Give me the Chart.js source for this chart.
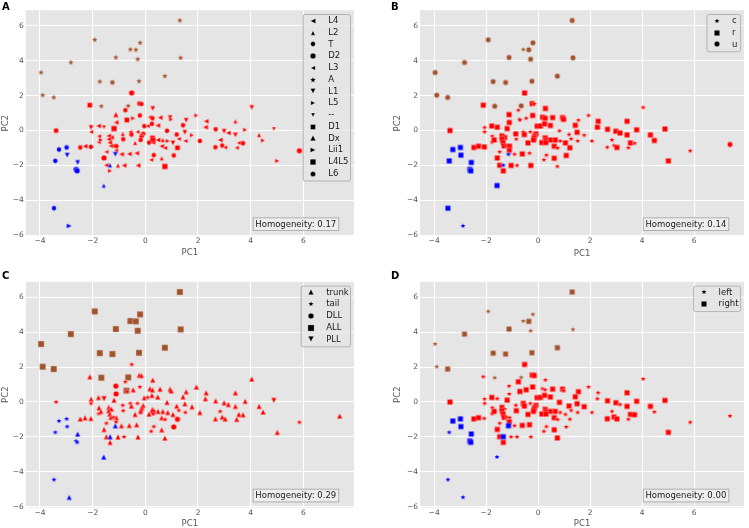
<!DOCTYPE html>
<html><head><meta charset="utf-8">
<script src="https://cdn.jsdelivr.net/npm/chart.js@4"></script>
<style>
html,body{margin:0;padding:0;background:#fff;}
#wrap{position:relative;width:749px;height:528px;overflow:hidden;background:#fff;}
#wrap canvas{position:absolute;}
.lbl{position:absolute;font-family:"DejaVu Sans",sans-serif;font-weight:bold;font-size:10px;line-height:10px;color:#000;}
</style></head><body>
<div id="wrap">
<canvas id="cA" width="375" height="264" style="left:0;top:0"></canvas>
<canvas id="cB" width="374" height="264" style="left:375px;top:0"></canvas>
<canvas id="cC" width="375" height="264" style="left:0;top:264px"></canvas>
<canvas id="cD" width="374" height="264" style="left:375px;top:264px"></canvas>
<div class="lbl" style="left:2px;top:2px">A</div>
<div class="lbl" style="left:391px;top:2px">B</div>
<div class="lbl" style="left:2px;top:271px">C</div>
<div class="lbl" style="left:391px;top:271px">D</div>
</div>
<script>
// ---------------- DATA ----------------
const pc1 = [
 1.31,-1.92,-0.20,-0.57,-0.36,-2.83,-1.12,-0.29,1.34,-3.96,0.74,-1.73,-1.25,-0.24,-3.90,-3.48,-1.67,-0.65,-0.72,
 -2.11,-3.39,-2.06,-2.06,-1.78,-1.57,-1.76,-1.77,-1.69,-1.39,-1.29,-1.39,-1.35,-1.31,-1.21,-1.19,-2.47,-2.29,-2.07,-1.57,-1.48,-1.48,-1.34,-1.12,-1.11,
 -0.52,-0.23,-0.15,-0.76,0.28,-0.21,-0.70,-0.46,0.17,0.27,0.56,0.94,0.98,-0.04,0.09,0.25,0.47,0.82,-0.57,-0.30,-0.86,-0.53,-0.08,-0.13,-0.16,
 -0.18,0.27,0.29,0.48,0.66,0.85,-0.84,-0.39,0.14,0.30,0.62,0.75,-1.10,-1.11,-0.91,-0.61,-0.33,0.32,0.62,0.22,-1.04,-0.81,-0.28,0.74,1.94,
 1.55,2.31,1.43,2.28,2.67,2.99,3.15,1.50,
 1.19,1.27,1.77,1.52,2.07,1.05,1.22,2.84,2.92,3.03,2.66,1.08,4.04,3.42,3.79,4.88,3.42,4.32,4.47,3.55,3.71,3.47,7.38,5.85,5.01,
 -3.28,-2.99,-2.97,-3.42,-2.57,-2.63,-2.59,-1.34,-1.14,-1.58,-3.47,-2.89
];
const pc2 = [
 6.30,5.19,5.02,4.64,4.62,3.89,4.18,4.08,4.16,3.32,3.11,2.80,2.75,2.82,2.02,1.89,1.39,1.41,0.65,
 1.45,0.00,0.17,-0.08,0.26,0.19,-0.33,-0.67,-0.54,-0.31,-0.40,-0.50,-0.69,-0.88,-0.88,0.11,-0.97,-0.90,-0.94,-1.57,-1.22,-1.99,-2.31,0.91,0.46,
 2.15,1.54,1.52,1.16,1.26,0.86,0.60,0.70,0.76,0.70,0.74,0.74,0.64,0.25,0.26,0.38,0.29,-0.02,-0.08,-0.08,-0.19,-0.23,-0.19,-0.31,-0.42,
 -0.54,-0.42,-0.56,-0.54,-0.54,-0.60,-0.50,-0.71,-0.69,-0.69,-0.90,-1.00,-0.90,-1.14,-1.36,-1.34,-1.30,-1.41,-1.59,-1.68,-2.00,-2.00,-2.00,-2.06,0.86,
 0.59,0.53,0.30,0.19,0.07,-0.04,-0.14,-0.10,
 -0.23,-0.48,-0.27,-0.60,-0.60,-0.71,-0.99,-0.54,-0.86,-0.97,-0.96,-1.43,1.32,0.53,0.04,0.09,-0.25,-0.25,-0.57,-0.71,-0.73,-0.99,-0.80,-1.16,-1.74,
 -1.09,-0.97,-1.41,-1.74,-1.83,-2.23,-2.31,-1.99,-1.36,-3.15,-4.45,-5.46
];
// cluster colour group of every point
const cluster = [
 'b','b','b','b','b','b','b','b','b','b','b','b','b','b','b','b','b','b','b',
 'r','r','r','r','r','r','r','r','r','r','r','r','r','r','r','r','r','r','r','r','r','r','r','r','r',
 'r','r','r','r','r','r','r','r','r','r','r','r','r','r','r','r','r','r','r','r','r','r','r','r','r',
 'r','r','r','r','r','r','r','r','r','r','r','r','r','r','r','r','r','r','r','r','r','r','r','r','r',
 'r','r','r','r','r','r','r','r',
 'r','r','r','r','r','r','r','r','r','r','r','r','r','r','r','r','r','r','r','r','r','r','r','r','r',
 'u','u','u','u','u','u','u','u','u','u','u','u'
];
// panel A: segment
const segment = [
 'A','A','A','A','A','A','A','A','A','A','A','A','T','A','A','A','A','A','A',
 'D1','L6','L1','L3','L4','--','L3','L3','L5','L4','L4','L4','L4','L4','L3','L4L5','T','L4','T','D2','L3','L4','L5','Dx','L4',
 'D2','T','T','T','L1','T','D1','L5','L3','T','L4','L1','L5','T','L3','T','L4','T','L3','L3','L2','T','T','T','L1',
 'T','D1','L4L5','L4','L2','L5','T','L2','T','L3','L4','L3','T','L3','L4','L4','L4','T','L2','L3','L2','L4','L4','L4L5','L5',
 'L1','L4','T','L4','T','L1','L4','L1',
 'T','L3','L5','L3','T','L1','D1','L4','T','L3','T','T','L1','L2','L5','--','L1','L2','L5','L3','T','L3','--','D2','L5',
 'T','T','L1','T','L1','D2','D2','L2','L1','L2','T','Lii1'
];
// panel B: type
const nerveType = [
 'u','u','u','c','u','u','u','u','u','u','u','u','u','u','u','u','u','u','c',
 'r','r','c','c','r','r','c','c','r','r','r','r','r','r','c','r','r','r','r','r','c','r','r','r','r',
 'r','r','c','c','r','r','c','c','r','r','r','r','r','r','r','r','r','c','c','c','r','r','r','r','r',
 'r','r','r','r','r','c','c','r','r','r','r','c','r','r','c','r','c','c','r','c','r','c','r','c','c',
 'c','r','r','r','r','r','r','r',
 'c','c','c','c','c','r','r','c','c','r','c','r','c','r','r','r','r','r','r','r','c','c','u','c','r',
 'r','r','r','r','r','r','r','c','c','r','r','c'
];
// panel C: region
const region = [
 'ALL','ALL','ALL','ALL','ALL','ALL','ALL','ALL','ALL','ALL','ALL','ALL','ALL','ALL','ALL','ALL','ALL','ALL','ALL',
 'trunk','tail','trunk','tail','trunk','PLL','trunk','tail','trunk','trunk','trunk','trunk','trunk','trunk','tail','trunk','trunk','trunk','trunk','trunk','tail','trunk','trunk','DLL','DLL',
 'tail','trunk','trunk','tail','trunk','tail','tail','trunk','trunk','trunk','trunk','trunk','trunk','trunk','tail','trunk','trunk','trunk','tail','tail','tail','trunk','trunk','trunk','trunk',
 'trunk','trunk','DLL','trunk','trunk','trunk','tail','trunk','trunk','tail','trunk','tail','trunk','tail','trunk','trunk','trunk','tail','trunk','tail','trunk','tail','trunk','trunk','trunk',
 'trunk','trunk','trunk','trunk','trunk','trunk','trunk','trunk',
 'trunk','tail','trunk','tail','trunk','trunk','DLL','tail','trunk','trunk','trunk','DLL','trunk','trunk','trunk','PLL','trunk','trunk','trunk','trunk','trunk','trunk','trunk','tail','trunk',
 'tail','tail','tail','tail','trunk','tail','tail','trunk','trunk','trunk','tail','trunk'
];
// panel D: side
const side = [
 'right','left','left','left','right','right','right','left','left','left','right','right','right','right','left','right','left','left','left',
 'left','right','left','left','right','left','left','left','right','right','left','right','right','right','left','right','right','right','left','right','left','right','right','left','left',
 'right','right','right','right','left','right','right','right','left','left','right','right','left','right','right','right','right','right','right','left','left','right','right','right','right',
 'right','right','right','right','right','left','right','right','right','right','right','left','left','right','left','right','right','left','right','left','left','left','left','right','left',
 'right','left','right','left','right','right','left','right',
 'right','left','right','left','left','left','left','left','right','right','right','left','left','right','right','right','right','right','left','right','right','left','left','left','right',
 'right','right','right','left','right','right','right','right','right','left','left','left'
];
const legendA = ['L4','L2','T','D2','L3','A','L1','L5','--','D1','Dx','Lii1','L4L5','L6'];
const legendB = ['c','r','u'];
const legendC = ['trunk','tail','DLL','ALL','PLL'];
const legendD = ['left','right'];
const homogeneity = ['0.17','0.14','0.29','0.00'];
const xTicks = [-4,-2,0,2,4,6];
const yTicks = [-6,-4,-2,0,2,4,6];

// ---------------- STYLE ----------------
const colours = {b:'#a0522d', r:'#ff0000', u:'#0000ff'};
const markerA = {L4:['<',5.2],L2:['^',4.4],T:['o',4.8],D2:['o',5.6],L3:['<',4.4],A:['*',5.8],L1:['v',5.2],L5:['>',4.4],'--':['v',4],D1:['s',5],Dx:['^',5.6],Lii1:['>',5.2],L4L5:['s',5.6],L6:['o',5.2]};
const markerB = {c:['*',5.4],r:['s',5.4],u:['o',5.4]};
const markerC = {trunk:['^',5.4],tail:['*',5.4],DLL:['o',5.6],ALL:['s',6.2],PLL:['v',5.6]};
const markerD = {left:['*',5.4],right:['s',5.4]};
const FONT = '"DejaVu Sans", "Liberation Sans", sans-serif';

function shapePath(ctx, shape, cx, cy, s) {
  const r = s/2;
  ctx.beginPath();
  if (shape === 's') { ctx.rect(cx-r, cy-r, s, s); }
  else if (shape === 'o') { ctx.arc(cx, cy, r, 0, Math.PI*2); }
  else if (shape === '^') { ctx.moveTo(cx, cy-r); ctx.lineTo(cx+r, cy+r); ctx.lineTo(cx-r, cy+r); ctx.closePath(); }
  else if (shape === 'v') { ctx.moveTo(cx, cy+r); ctx.lineTo(cx+r, cy-r); ctx.lineTo(cx-r, cy-r); ctx.closePath(); }
  else if (shape === '<') { ctx.moveTo(cx-r, cy); ctx.lineTo(cx+r, cy-r); ctx.lineTo(cx+r, cy+r); ctx.closePath(); }
  else if (shape === '>') { ctx.moveTo(cx+r, cy); ctx.lineTo(cx-r, cy-r); ctx.lineTo(cx-r, cy+r); ctx.closePath(); }
  else if (shape === '*') {
    for (let k = 0; k < 10; k++) {
      const rr = k % 2 === 0 ? r*1.05 : r*0.5;
      const a = -Math.PI/2 + k*Math.PI/5;
      const px = cx + rr*Math.cos(a), py = cy + rr*Math.sin(a);
      if (k === 0) ctx.moveTo(px, py); else ctx.lineTo(px, py);
    }
    ctx.closePath();
  }
}
const cache = {};
function marker(shape, size, colour) {
  const key = shape + size + colour;
  if (cache[key]) return cache[key];
  const c = document.createElement('canvas');
  const d = Math.ceil(size) + 4 + ((Math.ceil(size)) % 2);
  c.width = d; c.height = d;
  const g = c.getContext('2d');
  shapePath(g, shape, d/2, d/2, size);
  g.fillStyle = colour; g.fill();
  g.lineWidth = 0.5; g.strokeStyle = 'rgba(255,255,255,0.6)'; g.stroke();
  cache[key] = c;
  return c;
}
const fmt = v => (v < 0 ? '\u2212' + Math.abs(v) : String(v));

const decor = {
  id: 'decor',
  beforeDraw(chart, args, o) {
    const {ctx, chartArea: a} = chart;
    ctx.save(); ctx.fillStyle = '#e5e5e5';
    ctx.fillRect(a.left, a.top, a.right - a.left, a.bottom - a.top);
    ctx.restore();
  },
  afterDraw(chart, args, o) {
    const {ctx, chartArea: a} = chart;
    ctx.save();
    // legend
    const n = o.items.length, rowH = 11.75;
    const w = o.width, h = n*rowH + 2;
    const x0 = a.right - 3.9 - w, y0 = a.top + 3.8;
    ctx.beginPath();
    if (ctx.roundRect) ctx.roundRect(x0+0.5, y0+0.5, w, h, 2); else ctx.rect(x0+0.5, y0+0.5, w, h);
    ctx.fillStyle = 'rgba(229,229,229,0.85)'; ctx.fill();
    ctx.lineWidth = 1; ctx.strokeStyle = '#b3b3b3'; ctx.stroke();
    ctx.font = '8.5px ' + FONT; ctx.fillStyle = '#1a1a1a'; ctx.textBaseline = 'middle'; ctx.textAlign = 'left';
    o.items.forEach((lab, i) => {
      const cy = y0 + 6.8 + i*rowH;
      const [sh, sz] = o.styles[lab];
      const img = marker(sh, sz, '#000000');
      ctx.drawImage(img, Math.round(x0 + 10.5 - img.width/2), Math.round(cy - img.height/2));
      ctx.fillText(lab, x0 + 25.5, cy);
    });
    // homogeneity box
    const txt = 'Homogeneity: ' + o.hom;
    const tw = ctx.measureText(txt).width;
    const bw = tw + 4.6, bh = 12.7;
    const bx = a.right - 15.7 - bw, by = a.bottom - 6.2 - bh;
    ctx.fillStyle = 'rgba(240,240,240,0.8)'; ctx.fillRect(bx+0.5, by+0.5, bw, bh);
    ctx.strokeStyle = '#b0b0b0'; ctx.lineWidth = 1; ctx.strokeRect(bx+0.5, by+0.5, bw, bh);
    ctx.fillStyle = '#1a1a1a'; ctx.fillText(txt, bx + 2.6, by + bh/2 + 0.8);
    ctx.restore();
  }
};

function makeChart(id, labels, styles, legendItems, legendWidth, hom, g) {
  const pts = pc1.map((x, i) => ({x: x, y: pc2[i]}));
  return new Chart(document.getElementById(id), {
    type: 'scatter',
    data: { datasets: [{
      data: pts,
      pointRadius: 2.5,
      pointStyle: ctx => { const i = ctx.dataIndex; const [sh, sz] = styles[labels[i]]; return marker(sh, sz, colours[cluster[i]]); }
    }]},
    options: {
      responsive: false, animation: false, devicePixelRatio: 1, events: [],
      layout: { padding: {left: 0, top: g.top, right: g.right, bottom: 0} },
      plugins: { legend: {display: false}, tooltip: {enabled: false},
        decor: {items: legendItems, styles: styles, width: legendWidth, hom: hom} },
      scales: {
        x: { type: 'linear', min: -4.54, max: 7.92,
          afterBuildTicks: s => { s.ticks = xTicks.map(v => ({value: v})); },
          afterFit: s => { s.height = g.xh; },
          grid: {color: '#ffffff', lineWidth: 1.1, drawTicks: false},
          border: {display: false},
          ticks: {padding: 0.8, color: '#555555', font: {family: FONT, size: 7.5}, callback: fmt, maxRotation: 0, autoSkip: false},
          title: {display: true, text: 'PC1', color: '#555555', font: {family: FONT, size: 8.5, lineHeight: 1}, padding: {top: 0, bottom: g.xt}}
        },
        y: { type: 'linear', min: -6.05, max: 6.887,
          afterBuildTicks: s => { s.ticks = yTicks.map(v => ({value: v})); },
          afterFit: s => { s.width = g.yw; },
          grid: {color: '#ffffff', lineWidth: 1.1, drawTicks: false},
          border: {display: false},
          ticks: {padding: 2, color: '#555555', font: {family: FONT, size: 7.5}, callback: fmt, autoSkip: false},
          title: {display: true, text: 'PC2', color: '#555555', font: {family: FONT, size: 8.5, lineHeight: 1}, padding: {top: g.yt, bottom: 0}}
        }
      }
    },
    plugins: [decor]
  });
}

makeChart('cA', segment, markerA, legendA, 47.3, homogeneity[0], {top: 10.2, right: 21.1, xh: 27.8, yw: 25.8, xt: 6.75, yt: 1.75});
makeChart('cB', nerveType, markerB, legendB, 33.6, homogeneity[1], {top: 10.2, right: 0.8, xh: 27.8, yw: 45.1, xt: 6.45, yt: 18.75});
makeChart('cC', region, markerC, legendC, 49.3, homogeneity[2], {top: 17.8, right: 21.1, xh: 20.4, yw: 25.8, xt: 0.45, yt: 1.75});
makeChart('cD', side, markerD, legendD, 47, homogeneity[3], {top: 17.8, right: 0.8, xh: 20.4, yw: 45.1, xt: 0.45, yt: 18.4});
</script>
</body></html>
